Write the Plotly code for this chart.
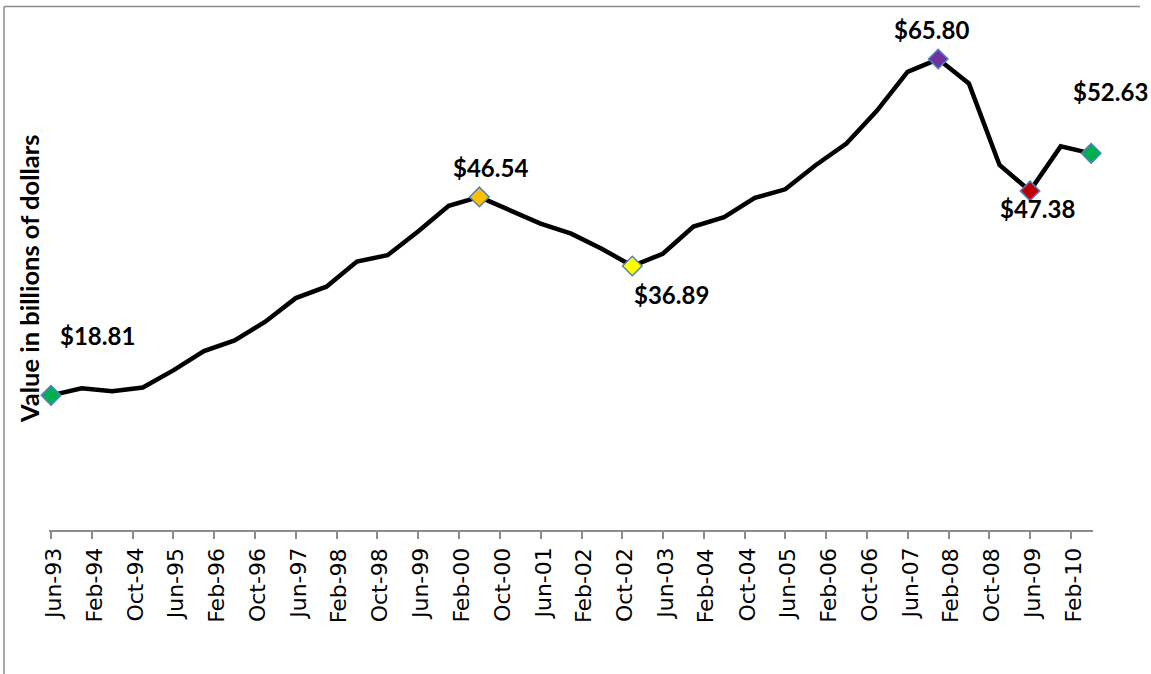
import plotly.graph_objects as go
import pandas as pd

# ---- data ----
periods = ["Jun-93", "Dec-93", "Jun-94", "Dec-94", "Jun-95", "Dec-95", "Jun-96", "Dec-96",
           "Jun-97", "Dec-97", "Jun-98", "Dec-98", "Jun-99", "Dec-99", "Jun-00", "Dec-00",
           "Jun-01", "Dec-01", "Jun-02", "Dec-02", "Jun-03", "Dec-03", "Jun-04", "Dec-04",
           "Jun-05", "Dec-05", "Jun-06", "Dec-06", "Jun-07", "Dec-07", "Jun-08", "Dec-08",
           "Jun-09", "Dec-09", "Jun-10"]
values = [18.81, 19.8, 19.4, 19.9, 22.3, 25.0, 26.5, 29.1,
          32.4, 34.0, 37.5, 38.4, 41.7, 45.3, 46.54, 44.6,
          42.8, 41.4, 39.3, 36.89, 38.6, 42.4, 43.7, 46.4,
          47.6, 51.0, 54.0, 58.6, 64.0, 65.80, 62.4, 51.0,
          47.38, 53.6, 52.63]

tick_labels = ["Jun-93", "Feb-94", "Oct-94", "Jun-95", "Feb-96", "Oct-96", "Jun-97", "Feb-98",
               "Oct-98", "Jun-99", "Feb-00", "Oct-00", "Jun-01", "Feb-02", "Oct-02", "Jun-03",
               "Feb-04", "Oct-04", "Jun-05", "Feb-06", "Oct-06", "Jun-07", "Feb-08", "Oct-08",
               "Jun-09", "Feb-10"]

highlight_periods = ["Jun-93", "Jun-00", "Dec-02", "Dec-07", "Jun-09", "Jun-10"]
highlight_colors = ["#00B050", "#FFC000", "#FFFF00", "#7030A0", "#C00000", "#00B050"]
# label offsets in pixels (styling)
label_shifts = [(46, 60), (11, 29), (39, -29), (-7, 30), (7, -18), (19, 62)]

y_title = "Value in billions of dollars"

# ---- build ----
dates = pd.to_datetime(periods, format="%b-%y")
tick_dates = pd.to_datetime(tick_labels, format="%b-%y")
val_by_period = dict(zip(periods, values))
h_dates = pd.to_datetime(highlight_periods, format="%b-%y")
h_vals = [val_by_period[p] for p in highlight_periods]

fig = go.Figure()
fig.add_trace(go.Scatter(x=dates, y=values, mode="lines",
                         line=dict(color="black", width=4.5), showlegend=False,
                         cliponaxis=False, hoverinfo="x+y"))
fig.add_trace(go.Scatter(x=h_dates, y=h_vals, mode="markers",
                         marker=dict(symbol="diamond", size=15, color=highlight_colors,
                                     line=dict(color="#4F81BD", width=1.5)),
                         cliponaxis=False, showlegend=False))

label_font = dict(family="Lato", size=24, color="black")
for d, v, (dx, dy) in zip(h_dates, h_vals, label_shifts):
    fig.add_annotation(x=d, y=v, text="<b>$%.2f</b>" % v, showarrow=False,
                       xshift=dx, yshift=dy, font=label_font,
                       xanchor="center", yanchor="middle")

# x tick labels (rotated, drawn at the axis tick positions)
for d, t in zip(tick_dates, tick_labels):
    fig.add_annotation(x=d, xref="x", y=(530 - 546) / 501, yref="paper",
                       text=t, textangle=-90, showarrow=False,
                       xanchor="center", yanchor="top", xshift=2,
                       font=dict(family="DejaVu Sans", size=22, color="black"))

fig.add_annotation(xref="paper", yref="paper", x=(29 - 49) / 1044, y=(530 - 279) / 501,
                   xanchor="center", yanchor="middle",
                   text="<b>" + y_title + "</b>", textangle=-90, showarrow=False,
                   font=dict(family="Lato", size=25.5, color="black"))

# outer frame (left + top)
fig.add_shape(type="line", xref="paper", yref="paper",
              x0=(4 - 49) / 1044, x1=(4 - 49) / 1044,
              y0=(530 - 6.5) / 501, y1=(530 - 680) / 501,
              line=dict(color="#8C8C8C", width=1.5))
fig.add_shape(type="line", xref="paper", yref="paper",
              x0=(4 - 49) / 1044, x1=(1140 - 49) / 1044,
              y0=(530 - 6.5) / 501, y1=(530 - 6.5) / 501,
              line=dict(color="#8C8C8C", width=1.5))

fig.update_layout(
    width=1151, height=674,
    margin=dict(l=49, r=58, t=29, b=144),
    paper_bgcolor="white", plot_bgcolor="white",
    xaxis=dict(type="date", automargin=False,
               range=[pd.Timestamp("1993-05-20"), pd.Timestamp("2010-06-12")],
               tickmode="array", tickvals=tick_dates, ticktext=tick_labels,
               showticklabels=False, ticks="outside", ticklen=7, tickwidth=1.5,
               tickcolor="#8C8C8C", showline=True, linecolor="#8C8C8C", linewidth=1.5,
               showgrid=False, zeroline=False),
    yaxis=dict(range=[0, 70], automargin=False, showticklabels=False, showgrid=False,
               zeroline=False, showline=False, ticks=""),
)

fig.write_html("out.html", config={"displayModeBar": False},
               post_script="document.body.style.margin='0px';")
